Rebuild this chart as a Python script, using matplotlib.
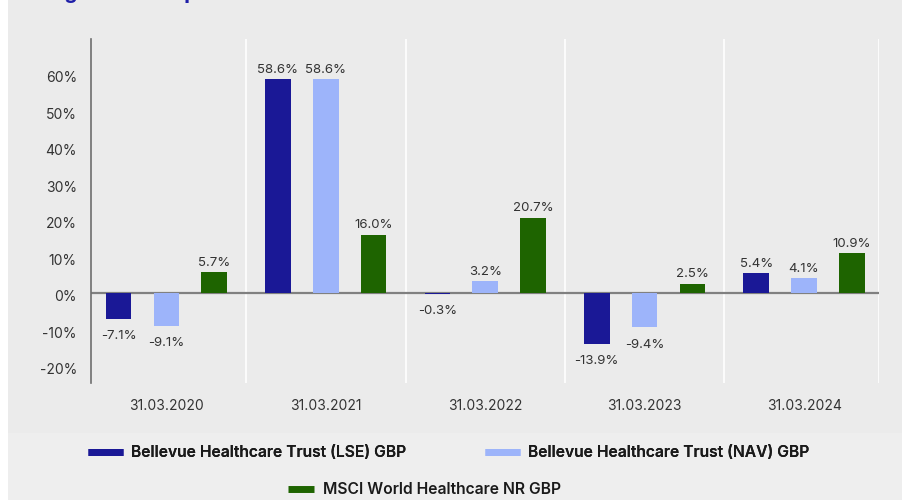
import matplotlib
matplotlib.use("Agg")
from matplotlib import pyplot as plt
from matplotlib.patches import Rectangle
import matplotlib.transforms as mtrans
import numpy as np

plt.rcParams['font.family'] = ['Inter', 'DejaVu Sans']

# data
dates = ['31.03.2020', '31.03.2021', '31.03.2022', '31.03.2023', '31.03.2024']
series_names = ['Bellevue Healthcare Trust (LSE) GBP',
                'Bellevue Healthcare Trust (NAV) GBP',
                'MSCI World Healthcare NR GBP']
lse = [-7.1, 58.6, -0.3, -13.9, 5.4]
nav = [-9.1, 58.6, 3.2, -9.4, 4.1]
msci = [5.7, 16.0, 20.7, 2.5, 10.9]
yticks = [-20, -10, 0, 10, 20, 30, 40, 50, 60]

colors = ['#1a1896', '#9db4fa', '#1e6400']
txt = '#333333'

fig = plt.figure(figsize=(9.03, 5.0), dpi=100)
fig.patch.set_facecolor('white')

# grey panel behind everything
fig.patches.append(Rectangle((8/903, 67/500), 1, 1, transform=fig.transFigure,
                             facecolor='#ebebeb', edgecolor='none', zorder=-10))
fig.patches.append(Rectangle((8/903, 0), 1, 67/500, transform=fig.transFigure,
                             facecolor='#eeeeee', edgecolor='none', zorder=-10))

# title, mostly cut off at the top (as in the source)
fig.text(8/903, 1 + 1.5/500, 'Rolling 12-month performance', color='#1e1ea8',
         fontsize=15, fontweight='bold', va='baseline', ha='left')

ax = fig.add_axes([0.1004, 0.2334, 0.8730, 0.6880])
ax.set_facecolor('none')

x = np.arange(len(dates))
w = 0.16
offs = [-0.3, 0.0, 0.3]
for vals, off, c in zip([lse, nav, msci], offs, colors):
    bars = ax.bar(x + off, vals, width=w, color=c, zorder=3)
    for b, v in zip(bars, vals):
        if v >= 0:
            ax.annotate(f'{v:.1f}%', (b.get_x() + b.get_width()/2, v),
                        xytext=(0, 2.5), textcoords='offset points',
                        ha='center', va='bottom', fontsize=9.5, color=txt)
        else:
            ax.annotate(f'{v:.1f}%', (b.get_x() + b.get_width()/2, v),
                        xytext=(0, -8), textcoords='offset points',
                        ha='center', va='top', fontsize=9.5, color=txt)

ax.set_xlim(-0.475, 4.47)
ax.set_ylim(-24.7, 69.5)

# white separators between categories
for xb in list(np.arange(0.5, 4, 1.0)) + [4.47]:
    ax.axvline(xb, color='white', lw=1.2, zorder=1)
ax.axhline(0, color='#808080', lw=1.6, zorder=2)

for s in ['top', 'right', 'bottom']:
    ax.spines[s].set_visible(False)
ax.spines['left'].set_color('#6e6e6e')
ax.spines['left'].set_linewidth(1.2)

ax.set_yticks(yticks)
ax.set_yticklabels([f'{t}%' for t in yticks])
ax.tick_params(axis='y', length=0, pad=10, labelsize=10, labelcolor=txt)
shift = mtrans.ScaledTranslation(0, -2.5/100, fig.dpi_scale_trans)
for lab in ax.get_yticklabels():
    lab.set_transform(lab.get_transform() + shift)
ax.set_xticks(x)
ax.set_xticklabels(dates)
ax.tick_params(axis='x', length=0, pad=11.5, labelsize=10, labelcolor=txt)

handles = [plt.Line2D([], [], color=c, lw=5, solid_capstyle='butt') for c in colors]
lp = {'size': 11.25, 'weight': 'semibold'}
leg1 = fig.legend(handles[:2], series_names[:2], ncol=2, loc='center left',
                  bbox_to_anchor=(88/903, 1 - 452.7/500), frameon=False,
                  borderpad=0, borderaxespad=0, handlelength=2.24,
                  handletextpad=0.51, columnspacing=5.06, prop=lp)
fig.add_artist(leg1)
leg2 = fig.legend(handles[2:], series_names[2:], loc='center left',
                  bbox_to_anchor=(288/903, 1 - 490/500), frameon=False,
                  borderpad=0, borderaxespad=0, handlelength=1.67,
                  handletextpad=0.58, prop=lp)
for lg in (leg1, leg2):
    for t in lg.get_texts():
        t.set_color('#1a1a1a')

fig.savefig('out.png', dpi=100)
